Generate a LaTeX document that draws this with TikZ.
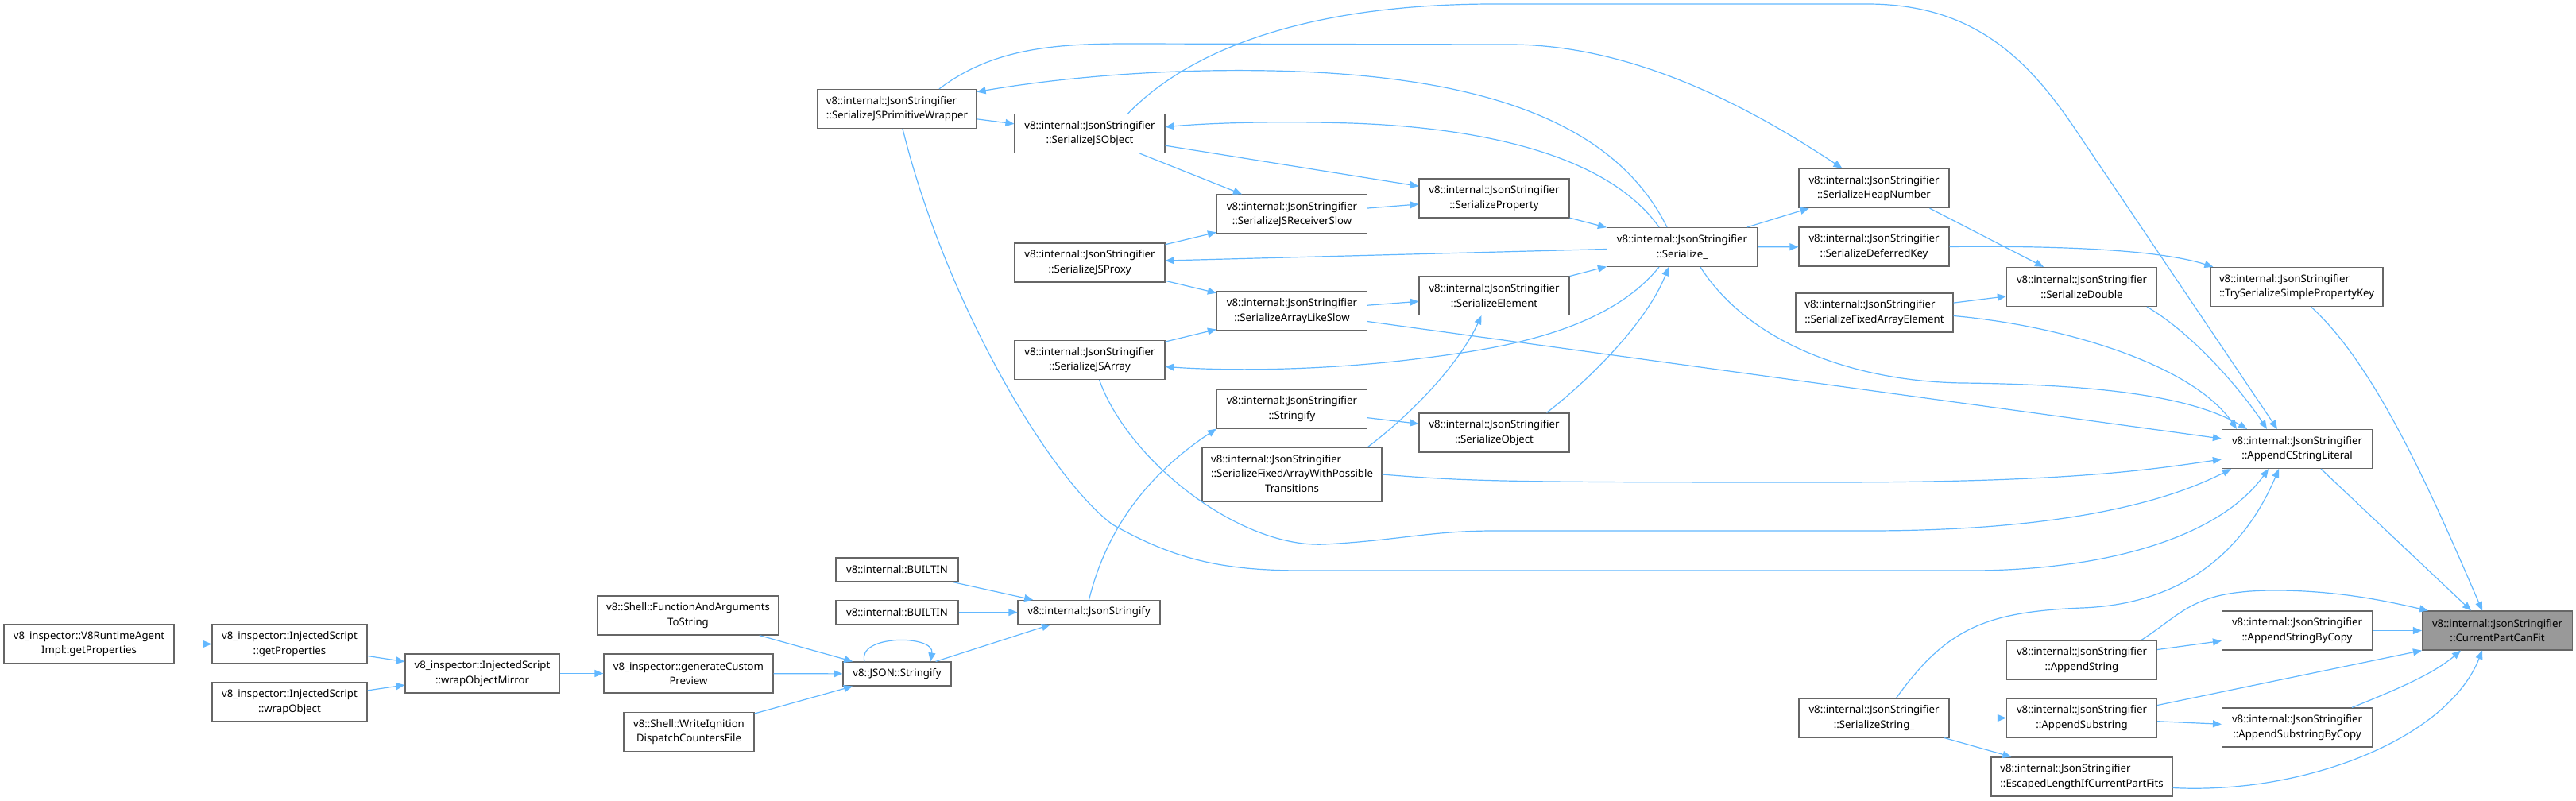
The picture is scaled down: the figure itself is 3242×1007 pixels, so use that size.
\documentclass[tikz,border=0pt]{standalone}
\usepackage{fontspec}
\setmainfont{Noto Sans}
\usepackage{tikz}
\usetikzlibrary{arrows.meta,positioning}
\definecolor{edgeblue}{HTML}{63B8FF}
\definecolor{boxgray}{HTML}{666666}
\definecolor{rootgray}{HTML}{999999}

\begin{document}
\begin{tikzpicture}[x=0.5pt,y=-0.5pt,
every node/.style={rectangle, draw=boxgray, line width=0.6pt, fill=white, font=\fontsize{6.6}{9.2}\selectfont, align=center, inner xsep=2pt, inner ysep=1pt, minimum width=94.5pt, minimum height=24.5pt},
one/.style={minimum height=15pt},
three/.style={minimum height=34pt},
lft/.style={align=left},
root/.style={fill=rootgray},
edge/.style={draw=edgeblue, line width=0.6pt, -{Triangle[length=5.5pt,width=4.5pt]}}
]
\useasboundingbox (0,0) rectangle (3242,1007);

% callers of JSON::Stringify
\node (rta) [minimum width=107pt] at (112,810.5) {v8\_inspector::V8RuntimeAgent\\Impl::getProperties};
\node (isgp) [minimum width=97.5pt] at (364.5,810.5) {v8\_inspector::InjectedScript\\::getProperties};
\node (iswo) [minimum width=97.5pt] at (364.5,883.5) {v8\_inspector::InjectedScript\\::wrapObject};
\node (iswom) [minimum width=97pt] at (607,847.5) {v8\_inspector::InjectedScript\\::wrapObjectMirror};
\node (fats) [minimum width=114pt] at (866,774.5) {v8::Shell::FunctionAndArguments\\ToString};
\node (gcp) [minimum width=106.5pt] at (866.5,847.5) {v8\_inspector::generateCustom\\Preview};
\node (widc) [minimum width=82pt] at (867,921) {v8::Shell::WriteIgnition\\DispatchCountersFile};
\node (bi1) [one, minimum width=77pt] at (1129,717) {v8::internal::BUILTIN};
\node (bi2) [one, minimum width=77pt] at (1129,770.5) {v8::internal::BUILTIN};
\node (jsonstr) [one, minimum width=68pt] at (1129,848) {v8::JSON::Stringify};
\node (jstr) [one, minimum width=89.5pt] at (1370.5,770.5) {v8::internal::JsonStringify};

% JsonStringifier
\node (sjspw) [lft, minimum width=100pt] at (1129,137) {v8::internal::JsonStringifier\\::SerializeJSPrimitiveWrapper};
\node (sjso) at (1371.5,168) {v8::internal::JsonStringifier\\::SerializeJSObject};
\node (sjsp) at (1371.5,330.5) {v8::internal::JsonStringifier\\::SerializeJSProxy};
\node (sjsa) at (1371.5,453) {v8::internal::JsonStringifier\\::SerializeJSArray};
\node (sjsrs) at (1626,269.5) {v8::internal::JsonStringifier\\::SerializeJSReceiverSlow};
\node (salls) at (1626,391.5) {v8::internal::JsonStringifier\\::SerializeArrayLikeSlow};
\node (strfy) at (1626,514.5) {v8::internal::JsonStringifier\\::Stringify};
\node (sfawpt) [three, minimum width=113pt] at (1626,597) {\begin{tabular}{@{}l@{}}v8::internal::JsonStringifier\\::SerializeFixedArrayWithPossible\\\multicolumn{1}{@{}c@{}}{Transitions}\end{tabular}};
\node (sprop) at (1880.5,249.5) {v8::internal::JsonStringifier\\::SerializeProperty};
\node (selem) at (1880.5,372) {v8::internal::JsonStringifier\\::SerializeElement};
\node (sobj) at (1880.5,544.5) {v8::internal::JsonStringifier\\::SerializeObject};
\node (ser) at (2117,311) {v8::internal::JsonStringifier\\::Serialize\_};
\node (shn) at (2358.5,237) {v8::internal::JsonStringifier\\::SerializeHeapNumber};
\node (sdk) at (2358.5,310.5) {v8::internal::JsonStringifier\\::SerializeDeferredKey};
\node (sfae) [lft, minimum width=99pt] at (2359,393.5) {v8::internal::JsonStringifier\\::SerializeFixedArrayElement};
\node (sstr) at (2358.5,903.5) {v8::internal::JsonStringifier\\::SerializeString\_};
\node (sdbl) at (2620,361) {v8::internal::JsonStringifier\\::SerializeDouble};
\node (aps) at (2620,830.5) {v8::internal::JsonStringifier\\::AppendString};
\node (asub) at (2620,903.5) {v8::internal::JsonStringifier\\::AppendSubstring};
\node (elcpf) [lft, minimum width=114pt] at (2620,977.5) {v8::internal::JsonStringifier\\::EscapedLengthIfCurrentPartFits};
\node (tsspk) [lft, minimum width=108.5pt] at (2890.5,361) {v8::internal::JsonStringifier\\::TrySerializeSimplePropertyKey};
\node (acl) at (2891,565) {v8::internal::JsonStringifier\\::AppendCStringLiteral};
\node (asbc) at (2891,793.5) {v8::internal::JsonStringifier\\::AppendStringByCopy};
\node (asubbc) at (2891,915.5) {v8::internal::JsonStringifier\\::AppendSubstringByCopy};
\node (cpcf) [root] at (3143,793.5) {v8::internal::JsonStringifier\\::CurrentPartCanFit};

% left part
\draw[edge] (rta) -- (isgp);
\draw[edge] (isgp) -- (iswom);
\draw[edge] (iswo) -- (iswom);
\draw[edge] (iswom) -- (gcp);
\draw[edge] (fats) -- (jsonstr);
\draw[edge] (gcp) -- (jsonstr);
\draw[edge] (widc) -- (jsonstr);
\draw[edge] ([xshift=-20.5pt]jsonstr.north) .. controls +(-5pt,17pt) and +(3pt,17pt) .. ([xshift=21pt]jsonstr.north);
\draw[edge] (jsonstr) -- (jstr);
\draw[edge] (bi1) -- (jstr);
\draw[edge] (bi2) -- (jstr);
\draw[edge] (jstr.north) .. controls (1395,655) and (1455,590) .. (strfy.south west);

% middle
\draw[edge] (strfy) -- (sobj);
\draw[edge] ([xshift=33pt]sobj.north) .. controls (2010,470) and (2075,400) .. ([xshift=-8.5pt]ser.south);
\draw[edge] ([xshift=-9pt]sfawpt.north east) .. controls (1790,510) and (1840,450) .. ([xshift=-8pt]selem.south);
\draw[edge] (sfawpt.east) .. controls (1850,606) and (1900,607) .. (2300,607) .. controls (2600,607) and (2700,592) .. ([yshift=-6.5pt]acl.west);
\draw[edge] (selem) -- (ser);
\draw[edge] (salls) -- (selem);
\draw[edge] (salls) -- (acl);
\draw[edge] (sjsp) -- (salls);
\draw[edge] (sjsp) -- (sjsrs);
\draw[edge] (sjsa) -- (salls);
\draw[edge] ([xshift=6pt]sjsa.south) .. controls (1420,580) and (1560,690) .. (1667,685) .. controls (1760,680) and (1800,668) .. (1880,668) -- (2350,668) .. controls (2600,668) and (2730,630) .. ([xshift=6pt]acl.south west);
\draw[edge] (sjspw) -- (sjso);
\draw[edge] (sjso) -- (sjsrs);
\draw[edge] (sjso) -- (sprop);
\draw[edge] (sjsrs) -- (sprop);
\draw[edge] (sprop) -- (ser);
\draw[edge] ([xshift=-9.5pt]ser.north) .. controls (2040,170) and (1900,95) .. (1600,89) .. controls (1450,86) and (1320,100) .. (sjspw.12);
\draw[edge] ([xshift=-14.5pt]ser.north) .. controls (2020,190) and (1850,160) .. (1700,155) .. controls (1600,152) and (1520,155) .. (sjso.5);
\draw[edge] (ser) -- (sjsp);
\draw[edge] ([xshift=-14.5pt]ser.south) .. controls (2020,420) and (1880,440) .. (1780,452) .. controls (1650,468) and (1530,466) .. (sjsa.-5);
\draw[edge] (ser) -- (shn);
\draw[edge] (ser) -- (sdk);
\draw[edge] ([xshift=11.5pt]ser.south) .. controls (2200,430) and (2330,480) .. (2470,482) .. controls (2650,484) and (2760,500) .. ([xshift=-31.5pt]acl.north);
\draw[edge] ([xshift=26.5pt]sjspw.north) .. controls (1250,60) and (1330,55) .. (1420,55) -- (1900,56) .. controls (2060,56) and (2210,140) .. ([xshift=-20pt]shn.north);
\draw[edge] ([xshift=24pt]sjso.north) .. controls (1500,60) and (1650,5) .. (1880,5) -- (2350,5) .. controls (2480,5) and (2549,70) .. (2610,160) -- ([xshift=-12.5pt]acl.north);
\draw[edge] ([xshift=3.5pt]sjspw.south) .. controls (1190,380) and (1320,600) .. (1400,660) .. controls (1480,705) and (1540,718) .. (1640,718) -- (2480,718) .. controls (2640,718) and (2790,680) .. ([xshift=-18pt]acl.south);

% right part
\draw[edge] ([xshift=35pt]shn.south) -- ([xshift=-24pt]sdbl.north);
\draw[edge] (sdk.east) .. controls (2600,309) and (2720,315) .. ([xshift=2pt]tsspk.north west);
\draw[edge] (sfae) -- (sdbl);
\draw[edge] ([yshift=-2pt]sfae.east) .. controls (2600,410) and (2760,460) .. ([xshift=-38pt]acl.north);
\draw[edge] ([xshift=41pt]sdbl.south) .. controls (2760,420) and (2820,490) .. ([xshift=-19pt]acl.north);
\draw[edge] ([xshift=9pt]tsspk.south) .. controls (2990,460) and (3060,620) .. ([xshift=-9.5pt]cpcf.north);
\draw[edge] ([xshift=15pt]acl.south) -- ([xshift=-16.5pt]cpcf.north);
\draw[edge] (asbc) -- (cpcf);
\draw[edge] (aps) -- (asbc);
\draw[edge] ([xshift=37.5pt]aps.north) .. controls (2750,770) and (2760,742) .. (2870,743) .. controls (2950,744) and (3010,758) .. ([xshift=4pt]cpcf.north west);
\draw[edge] ([yshift=8pt]asub.east) -- (cpcf.south west);
\draw[edge] (asub) -- (asubbc);
\draw[edge] ([xshift=34.5pt]asubbc.north) .. controls (3010,870) and (3060,850) .. ([xshift=-23pt]cpcf.south);
\draw[edge] (sstr) -- (asub);
\draw[edge] (sstr) -- (elcpf);
\draw[edge] ([xshift=14pt]sstr.north) .. controls (2450,790) and (2500,770) .. (2620,765) .. controls (2760,760) and (2830,680) .. ([xshift=-11.5pt]acl.south);
\draw[edge] ([yshift=-7pt]elcpf.east) .. controls (2900,1000) and (3080,930) .. ([xshift=-9.5pt]cpcf.south);
\end{tikzpicture}
\end{document}
